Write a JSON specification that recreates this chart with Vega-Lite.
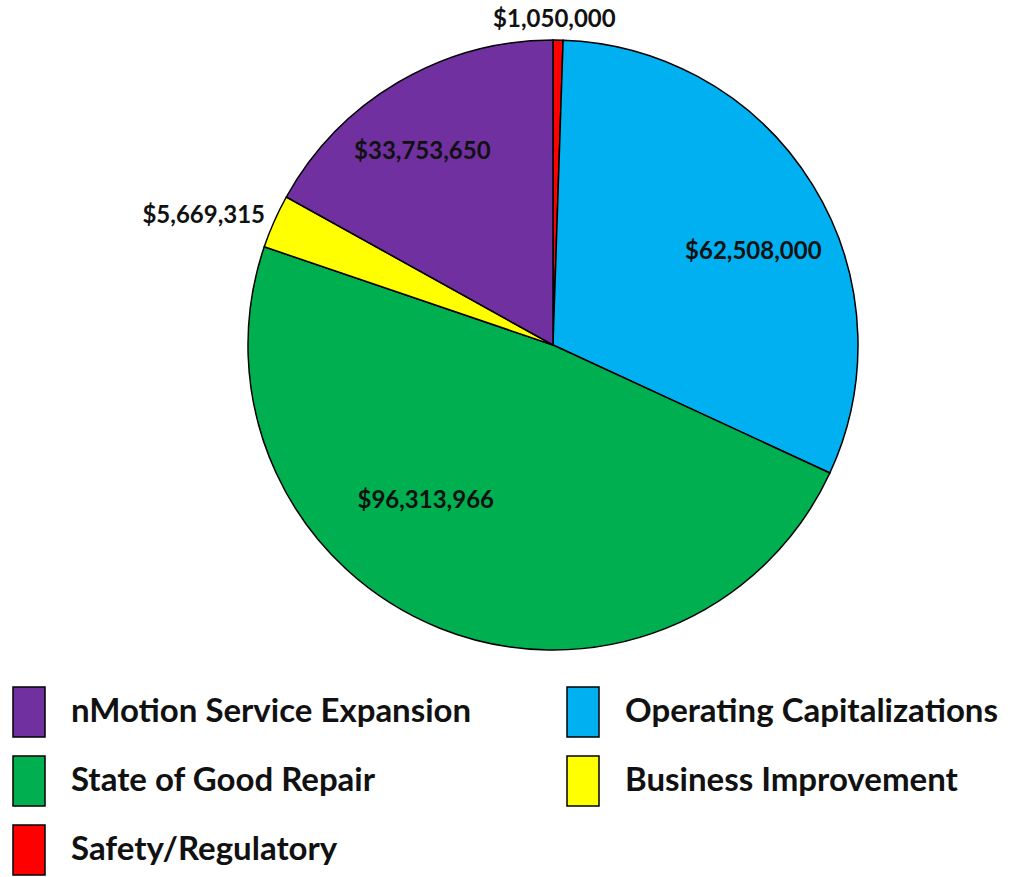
{
  "$schema": "https://vega.github.io/schema/vega-lite/v6.json",
  "width": 914,
  "height": 690,
  "autosize": "none",
  "padding": {"left": 96, "top": 0, "right": 0, "bottom": 187},
  "background": "white",
  "config": {"view": {"stroke": null}},
  "data": {
    "values": [
      {"category": "Safety/Regulatory", "amount": 1050000, "ord": 1},
      {"category": "Operating Capitalizations", "amount": 62508000, "ord": 2},
      {"category": "State of Good Repair", "amount": 96313966, "ord": 3},
      {"category": "Business Improvement", "amount": 5669315, "ord": 4},
      {"category": "nMotion Service Expansion", "amount": 33753650, "ord": 5}
    ]
  },
  "encoding": {
    "theta": {"field": "amount", "type": "quantitative", "stack": true},
    "order": {"field": "ord", "type": "quantitative"},
    "detail": {"field": "category", "type": "nominal"}
  },
  "layer": [
    {
      "mark": {"type": "arc", "outerRadius": 305, "stroke": "black", "strokeWidth": 1.5},
      "encoding": {
        "color": {
          "field": "category",
          "type": "nominal",
          "scale": {
            "domain": ["nMotion Service Expansion", "Operating Capitalizations", "State of Good Repair", "Business Improvement", "Safety/Regulatory"],
            "range": ["#7030A0", "#00B0F0", "#00B050", "#FFFF00", "#FF0000"]
          },
          "legend": {
            "orient": "none",
            "legendX": -93,
            "legendY": 686,
            "columns": 2,
            "direction": "horizontal",
            "title": null,
            "symbolType": "M-0.64,-1H0.64V1H-0.64Z",
            "symbolSize": 2500,
            "symbolOpacity": 1,
            "labelFont": "Lato",
            "labelFontSize": 33,
            "labelFontWeight": "bold",
            "labelColor": "#111111",
            "labelOffset": 16,
            "labelLimit": 600,
            "columnPadding": 85,
            "rowPadding": 13,
            "padding": 0,
            "encode": {
              "symbols": {"update": {"stroke": {"value": "#41719C"}, "strokeWidth": {"value": 1.5}}},
              "labels": {"update": {"dy": {"value": 9}}}
            }
          }
        }
      }
    },
    {
      "mark": {"type": "text", "radius": 325, "dx": -4, "dy": 0, "font": "Lato", "fontSize": 24, "fontWeight": "bold", "fill": "#111111", "align": "center", "baseline": "middle"},
      "encoding": {"text": {"condition": {"test": "datum.category === 'Safety/Regulatory'", "field": "amount", "type": "quantitative", "format": "$,.0f"}, "value": ""}}
    },
    {
      "mark": {"type": "text", "radius": 220, "dx": 13, "dy": 22, "font": "Lato", "fontSize": 24, "fontWeight": "bold", "fill": "#111111", "align": "center", "baseline": "middle"},
      "encoding": {"text": {"condition": {"test": "datum.category === 'Operating Capitalizations'", "field": "amount", "type": "quantitative", "format": "$,.0f"}, "value": ""}}
    },
    {
      "mark": {"type": "text", "radius": 200, "dx": -53, "dy": -30, "font": "Lato", "fontSize": 24, "fontWeight": "bold", "fill": "#111111", "align": "center", "baseline": "middle"},
      "encoding": {"text": {"condition": {"test": "datum.category === 'State of Good Repair'", "field": "amount", "type": "quantitative", "format": "$,.0f"}, "value": ""}}
    },
    {
      "mark": {"type": "text", "radius": 370, "dx": -11, "dy": 21, "font": "Lato", "fontSize": 24, "fontWeight": "bold", "fill": "#111111", "align": "center", "baseline": "middle"},
      "encoding": {"text": {"condition": {"test": "datum.category === 'Business Improvement'", "field": "amount", "type": "quantitative", "format": "$,.0f"}, "value": ""}}
    },
    {
      "mark": {"type": "text", "radius": 230, "dx": -14, "dy": 5, "font": "Lato", "fontSize": 24, "fontWeight": "bold", "fill": "#111111", "align": "center", "baseline": "middle"},
      "encoding": {"text": {"condition": {"test": "datum.category === 'nMotion Service Expansion'", "field": "amount", "type": "quantitative", "format": "$,.0f"}, "value": ""}}
    }
  ]
}
